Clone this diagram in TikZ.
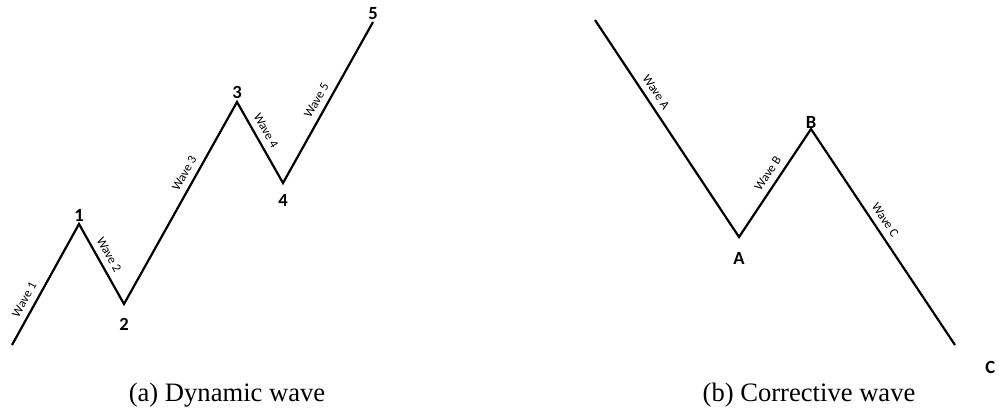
\documentclass[tikz,border=0pt]{standalone}
\usepackage{fontspec}
\setmainfont{Liberation Serif}
\newfontfamily\calfont{Carlito}
\usetikzlibrary{positioning}
\tikzset{
  % one pixel of the sketch is half a point
  wave/.style    = {line width=1.1pt, black, line join=miter},
  wlbl/.style    = {font=\calfont\fontsize{6.3}{7}\selectfont, sloped, above=3pt, inner sep=0pt},
  ptlbl/.style   = {font=\calfont\bfseries\fontsize{9.3}{11}\selectfont, inner sep=0pt},
  caplbl/.style  = {font=\fontsize{13.3}{15}\selectfont, anchor=base},
}

\begin{document}
\begin{tikzpicture}[x=0.5pt,y=-0.5pt]
  \useasboundingbox (0,0) rectangle (999,414);
  % dynamic wave: five legs
  \coordinate (w0) at (12,345);
  \coordinate (w1) at (79,224);
  \coordinate (w2) at (124,304);
  \coordinate (w3) at (237,102);
  \coordinate (w4) at (283,183);
  \coordinate (w5) at (373,22);
  \draw[wave] (w0) -- node[wlbl, pos=.33] {Wave 1} (w1)
                   -- node[wlbl, pos=.45] {Wave 2} (w2)
                   -- node[wlbl, pos=.62] {Wave 3} (w3)
                   -- node[wlbl, pos=.42] {Wave 4} (w4)
                   -- node[wlbl, pos=.48] {Wave 5} (w5);
  \node[ptlbl, above=1pt of w1]   (p1) {1};
  \node[ptlbl, below=7pt of w2]   (p2) {2};
  \node[ptlbl, above=1.5pt of w3] (p3) {3};
  \node[ptlbl, below=5.5pt of w4] (p4) {4};
  \node[ptlbl, above=1pt of w5]   (p5) {5};
  % corrective wave: three legs
  \coordinate (c0) at (595,20);
  \coordinate (cA) at (739,237);
  \coordinate (cB) at (811,129);
  \coordinate (cC) at (955,345);
  \draw[wave] (c0) -- node[wlbl, pos=.36] {Wave A} (cA)
                   -- node[wlbl, pos=.53] {Wave B} (cB)
                   -- node[wlbl, pos=.45] {Wave C} (cC);
  \node[ptlbl, below=7.5pt of cA] (pA) {A};
  \node[ptlbl, above=0pt of cB]   (pB) {B};
  \node[ptlbl, below right=8pt and 15pt of cC] (pC) {C};
  % captions
  \node[caplbl] (capa) at (227,401) {(a) Dynamic wave};
  \node[caplbl] (capb) at (809,401) {(b) Corrective wave};
\end{tikzpicture}
\end{document}
